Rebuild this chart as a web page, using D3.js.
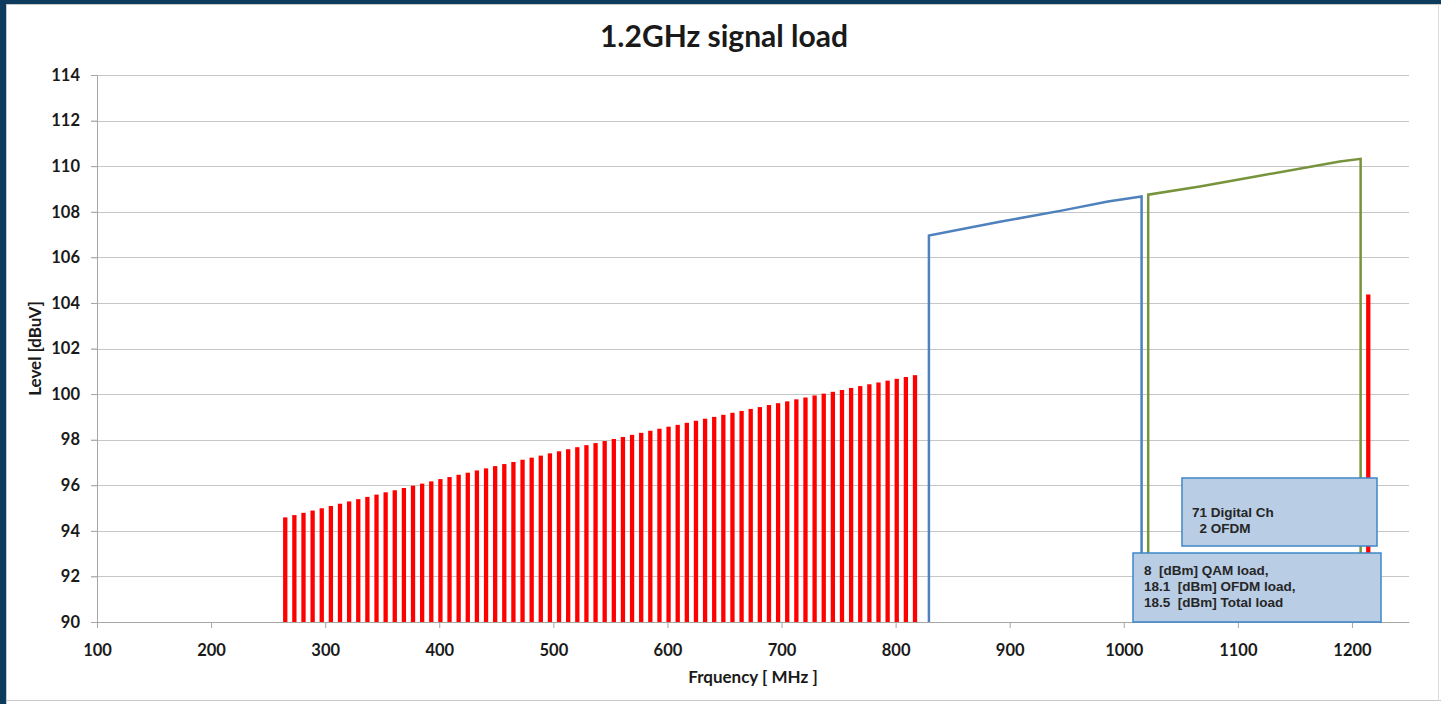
<!DOCTYPE html>
<html>
<head>
<meta charset="utf-8">
<script src="https://cdn.jsdelivr.net/npm/d3@7"></script>
<style>
  body { margin: 0; background: #ffffff; }
  .tick text { font-family: Lato, 'Open Sans', sans-serif; font-weight: 700; font-size: 16.5px; fill: #1a1a1a; }
  .note { font-family: 'Liberation Sans', Arial, sans-serif; font-weight: 700; font-size: 13.5px; fill: #262626; }
  .axtitle { font-family: Lato, 'Open Sans', sans-serif; font-weight: 700; font-size: 17px; fill: #1a1a1a; }
</style>
</head>
<body>
<div id="chart"></div>
<script>
'use strict'
// QAM channel centre frequencies [MHz]
const qamFreq = [265, 273, 281, 289, 297, 305, 313, 321, 329, 337, 345, 353, 361, 369, 377, 385, 393, 401, 409, 417,
    425, 433, 441, 449, 457, 465, 473, 481, 489, 497, 505, 513, 521, 529, 537, 545, 553, 561, 569, 577,
    585, 593, 601, 609, 617, 625, 633, 641, 649, 657, 665, 673, 681, 689, 697, 705, 713, 721, 729, 737,
    745, 753, 761, 769, 777, 785, 793, 801, 809, 817]
// QAM channel level [dBuV]
const qamLevel = [94.59, 94.69, 94.79, 94.89, 94.99, 95.09, 95.19, 95.29, 95.39, 95.49, 95.59, 95.69, 95.78, 95.88, 95.98, 96.07, 96.17, 96.27, 96.36, 96.46,
    96.55, 96.65, 96.74, 96.84, 96.93, 97.02, 97.12, 97.21, 97.30, 97.40, 97.49, 97.58, 97.67, 97.76, 97.85, 97.94, 98.03, 98.12, 98.21, 98.30,
    98.39, 98.48, 98.57, 98.65, 98.74, 98.83, 98.92, 99.00, 99.09, 99.18, 99.26, 99.35, 99.43, 99.52, 99.60, 99.68, 99.77, 99.85, 99.94, 100.02,
    100.10, 100.18, 100.27, 100.35, 100.43, 100.51, 100.59, 100.67, 100.75, 100.83]
// lone digital channel above the OFDM blocks
const extraFreq = [1214.3]
const extraLevel = [104.37]
// OFDM block 1 outline
const ofdm1Freq = [829.2, 829.2, 891.4, 946.6, 986.1, 1015.6, 1015.6]
const ofdm1Level = [90, 106.96, 107.56, 108.06, 108.45, 108.67, 90]
// OFDM block 2 outline
const ofdm2Freq = [1021.4, 1021.4, 1066.7, 1119.3, 1189.4, 1207.6, 1207.6]
const ofdm2Level = [90, 108.75, 109.11, 109.58, 110.2, 110.32, 90]
const xTicks = [100, 200, 300, 400, 500, 600, 700, 800, 900, 1000, 1100, 1200]
const yTicks = [90, 92, 94, 96, 98, 100, 102, 104, 106, 108, 110, 112, 114]
const note1 = ['71 Digital Ch', '  2 OFDM']
const note2 = ['8  [dBm] QAM load,', '18.1  [dBm] OFDM load,', '18.5  [dBm] Total load']

const W = 1441
const H = 704
const margin = { top: 75, right: 32, bottom: 82, left: 97 }
const width = W - margin.left - margin.right
const height = H - margin.top - margin.bottom
const barW = 4.3

const svgRoot = d3.select('#chart').append('svg')
    .attr('width', W)
    .attr('height', H)
    .style('display', 'block')
svgRoot.append('rect') // dark frame (top and left edge)
    .attr('width', W).attr('height', H)
    .attr('fill', '#0c3b5e')
svgRoot.append('rect') // white chart panel
    .attr('x', 6.5).attr('y', 4.5)
    .attr('width', W).attr('height', H)
    .attr('fill', '#ffffff')
    .attr('stroke', '#c8c8c8')
svgRoot.append('line') // panel bottom edge
    .attr('x1', 6).attr('x2', W)
    .attr('y1', 700.5).attr('y2', 700.5)
    .attr('stroke', '#c8c8c8')
svgRoot.append('line') // panel right edge
    .attr('x1', 1438.5).attr('x2', 1438.5)
    .attr('y1', 4).attr('y2', 701)
    .attr('stroke', '#dcdcdc')

svgRoot.append('text') // title
    .attr('x', 724).attr('y', 47)
    .attr('text-anchor', 'middle')
    .style('font-family', "Lato, 'Open Sans', sans-serif")
    .style('font-weight', 700)
    .style('font-size', '30px')
    .attr('fill', '#1a1a1a')
    .text('1.2GHz signal load')

const svg = svgRoot.append('g')
    .attr('transform', `translate(${margin.left},${margin.top})`)

const x = d3.scaleLinear().domain([100, 1250]).range([0, width])
const y = d3.scaleLinear().domain([90, 114]).range([height, 0])

svg.append('g') // horizontal gridlines
    .selectAll('line')
    .data(yTicks.slice(1)).enter().append('line')
    .attr('x1', -6).attr('x2', width)
    .attr('y1', d => Math.round(y(d)) + 0.5).attr('y2', d => Math.round(y(d)) + 0.5)
    .attr('stroke', '#c6c6c6')

const yAxis = svg.append('g') // y axis
    .call(d3.axisLeft(y).tickValues(yTicks).tickSize(6).tickPadding(11).tickFormat(d3.format('d')))
yAxis.select('.domain').attr('stroke', '#a6a6a6')
yAxis.selectAll('.tick line').attr('stroke', '#a6a6a6')

const xAxis = svg.append('g') // x axis
    .attr('transform', `translate(0,${height})`)
    .call(d3.axisBottom(x).tickValues(xTicks).tickSize(6).tickPadding(16).tickSizeOuter(0).tickFormat(d3.format('d')))
xAxis.select('.domain').attr('stroke', '#a6a6a6')
xAxis.selectAll('.tick line').attr('stroke', '#a6a6a6')

svg.append('g') // QAM channel bars
    .selectAll('rect')
    .data(qamFreq).enter().append('rect')
    .attr('x', d => x(d) - barW / 2)
    .attr('width', barW)
    .attr('y', (d, i) => y(qamLevel[i]))
    .attr('height', (d, i) => y(90) - y(qamLevel[i]))
    .attr('fill', '#ff0000')

svg.append('g') // extra channel bar
    .selectAll('rect')
    .data(extraFreq).enter().append('rect')
    .attr('x', d => x(d) - barW / 2)
    .attr('width', barW)
    .attr('y', (d, i) => y(extraLevel[i]))
    .attr('height', (d, i) => y(90) - y(extraLevel[i]))
    .attr('fill', '#ff0000')

const ofdmLine = d3.line()
    .x(d => x(d[0]))
    .y(d => y(d[1]))
svg.append('path') // OFDM block 1
    .datum(ofdm1Freq.map((f, i) => [f, ofdm1Level[i]]))
    .attr('fill', 'none')
    .attr('stroke', '#4f81bd')
    .attr('stroke-width', 2.5)
    .attr('d', ofdmLine)
svg.append('path') // OFDM block 2
    .datum(ofdm2Freq.map((f, i) => [f, ofdm2Level[i]]))
    .attr('fill', 'none')
    .attr('stroke', '#77933c')
    .attr('stroke-width', 2.5)
    .attr('d', ofdmLine)

// annotation boxes
function noteBox(bx, by, bw, bh, lines, tx, ty) {
    svgRoot.append('rect')
        .attr('x', bx).attr('y', by)
        .attr('width', bw).attr('height', bh)
        .attr('fill', '#b9cde5')
        .attr('stroke', '#3f86c8')
        .attr('stroke-width', 1.5)
    svgRoot.append('text')
        .attr('class', 'note')
        .attr('x', tx).attr('y', ty)
        .attr('xml:space', 'preserve')
        .style('white-space', 'pre')
        .selectAll('tspan')
        .data(lines).enter().append('tspan')
        .attr('x', tx)
        .attr('dy', (d, i) => i ? 16.2 : 0)
        .text(d => d)
}
noteBox(1182, 478, 195, 68, note1, 1192, 517)
noteBox(1133, 553, 248, 69, note2, 1144, 575)

svgRoot.append('text') // y axis label
    .attr('class', 'axtitle')
    .attr('transform', 'rotate(-90)')
    .attr('x', -(margin.top + height / 2))
    .attr('y', 41)
    .attr('text-anchor', 'middle')
    .text('Level [dBuV]')
svgRoot.append('text') // x axis label
    .attr('class', 'axtitle')
    .attr('x', margin.left + width / 2)
    .attr('y', 683)
    .attr('text-anchor', 'middle')
    .text('Frquency [ MHz ]')
</script>
</body>
</html>
